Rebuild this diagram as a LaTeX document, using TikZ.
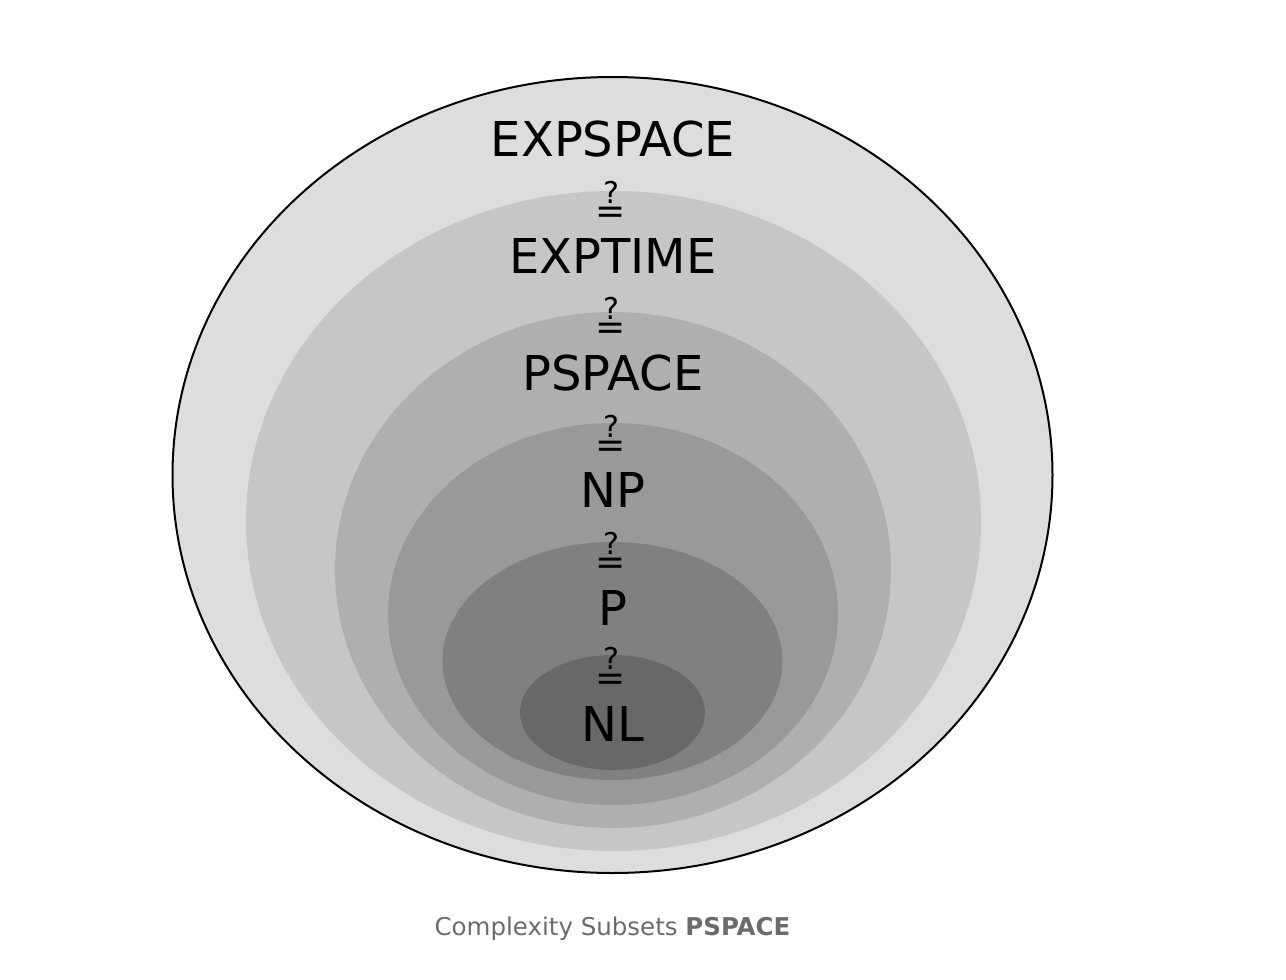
\documentclass[tikz,border=0pt]{standalone}
\usepackage{fontspec}
\setmainfont{DejaVu Sans}
\usetikzlibrary{positioning}

\definecolor{expspacefill}{gray}{0.866}
\definecolor{exptimefill}{gray}{0.776}
\definecolor{pspacefill}{gray}{0.686}
\definecolor{npfill}{gray}{0.600}
\definecolor{pfill}{gray}{0.502}
\definecolor{nlfill}{gray}{0.408}
\definecolor{captiongray}{gray}{0.42}

% question mark set over an equals sign
\newcommand{\qeqsign}{\vbox{\offinterlineskip
  \hbox to 30pt{\hss\fontsize{30}{30}\selectfont ?\hss}\kern4pt
  \hbox to 30pt{\hss\fontsize{36}{36}\selectfont =\hss}\kern-7pt}}

\tikzset{
  classlabel/.style={inner sep=0pt, font=\fontsize{48}{52}\selectfont},
  qeqlabel/.style={inner sep=0pt}
}

\begin{document}
\begin{tikzpicture}[x=1pt, y=-1pt]
    \useasboundingbox (0,0) rectangle (1286,980);

    % Nested classes, outermost first
    \filldraw[fill=expspacefill, draw=black, line width=2pt] (612.5,475) ellipse [x radius=440pt, y radius=398pt];
    \fill[exptimefill] (613.5,521) ellipse [x radius=367.5pt, y radius=330pt];
    \fill[pspacefill] (613,570) ellipse [x radius=278pt, y radius=258pt];
    \fill[npfill] (613,614) ellipse [x radius=225pt, y radius=191pt];
    \fill[pfill] (612.5,661) ellipse [x radius=170pt, y radius=119pt];
    \fill[nlfill] (612.5,712.5) ellipse [x radius=92.5pt, y radius=57.5pt];

    % Class names
    \node[classlabel] (expspace) at (613,139) {EXPSPACE};
    \node[classlabel] (exptime) at (613,256) {EXPTIME};
    \node[classlabel] (pspace) at (613,373) {PSPACE};
    \node[classlabel] (np) at (613,490) {NP};
    \node[classlabel] (p) at (613,608) {P};
    \node[classlabel] (nl) at (613,724) {NL};

    % Open questions between them
    \node[qeqlabel] (q1) at (611,199) {\qeqsign};
    \node[qeqlabel] (q2) at (611,315) {\qeqsign};
    \node[qeqlabel] (q3) at (611,433) {\qeqsign};
    \node[qeqlabel] (q4) at (611,550) {\qeqsign};
    \node[qeqlabel] (q5) at (611,665.5) {\qeqsign};

    % Caption
    \node[anchor=base, inner sep=0pt, text=captiongray, font=\fontsize{24.5}{28}\selectfont] (caption) at (612.5,935) {Complexity Subsets \textbf{PSPACE}};
\end{tikzpicture}
\end{document}
